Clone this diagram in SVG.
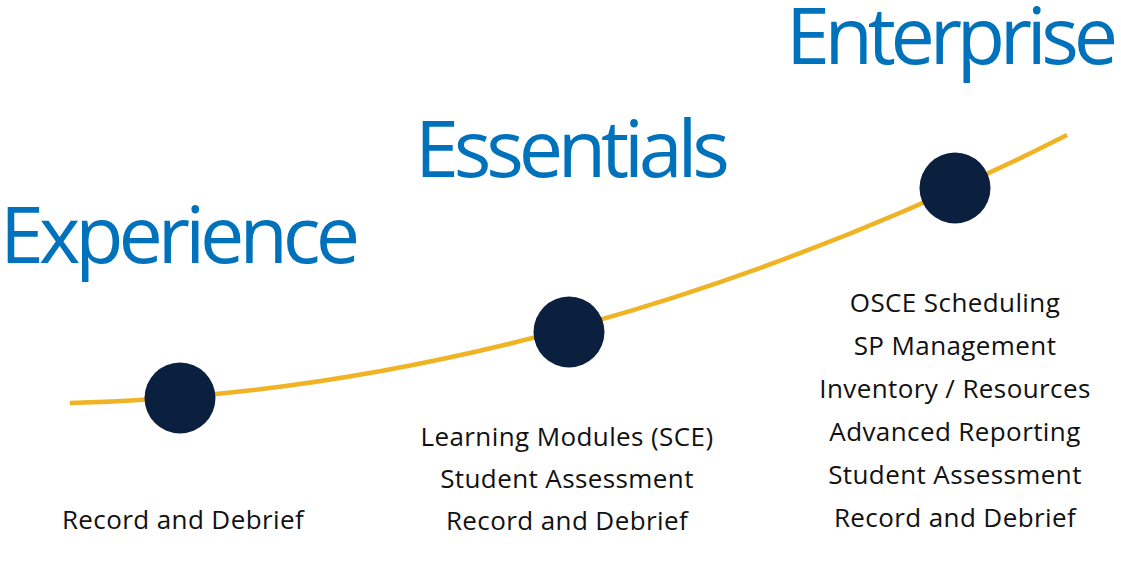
<svg xmlns="http://www.w3.org/2000/svg" width="1121" height="564" viewBox="0 0 1121 564">
<style>
.h{font-family:"Open Sans","Noto Sans",sans-serif;font-size:79px;fill:#0072BC;}
.t{font-family:"Open Sans","Noto Sans",sans-serif;font-size:26px;letter-spacing:0.4px;fill:#111111;text-anchor:middle;}
.dot{fill:#0B1F3F;}
</style>
<rect width="1121" height="564" fill="#ffffff"/>
<g id="connectors">
<path d="M70,403 C420,395 760,290 1067,135" fill="none" stroke="#F0B323" stroke-width="4.5" stroke-linecap="butt"/>
</g>
<g id="experience">
<circle class="dot" cx="180" cy="398" r="35.5"/>
<text class="h" x="0" y="263" textLength="360" lengthAdjust="spacing">Experience</text>
<text class="t" x="183" y="529">Record and Debrief</text>
</g>
<g id="essentials">
<circle class="dot" cx="569" cy="332" r="35.5"/>
<text class="h" x="415" y="177" textLength="315" lengthAdjust="spacing">Essentials</text>
<text class="t" x="567" y="446">Learning Modules (SCE)</text>
<text class="t" x="567" y="488">Student Assessment</text>
<text class="t" x="567" y="530">Record and Debrief</text>
</g>
<g id="enterprise">
<circle class="dot" cx="955" cy="188" r="35.5"/>
<text class="h" x="786" y="64" textLength="332" lengthAdjust="spacing">Enterprise</text>
<text class="t" x="955" y="312">OSCE Scheduling</text>
<text class="t" x="955" y="355">SP Management</text>
<text class="t" x="955" y="398">Inventory / Resources</text>
<text class="t" x="955" y="441">Advanced Reporting</text>
<text class="t" x="955" y="484">Student Assessment</text>
<text class="t" x="955" y="527">Record and Debrief</text>
</g>
</svg>
